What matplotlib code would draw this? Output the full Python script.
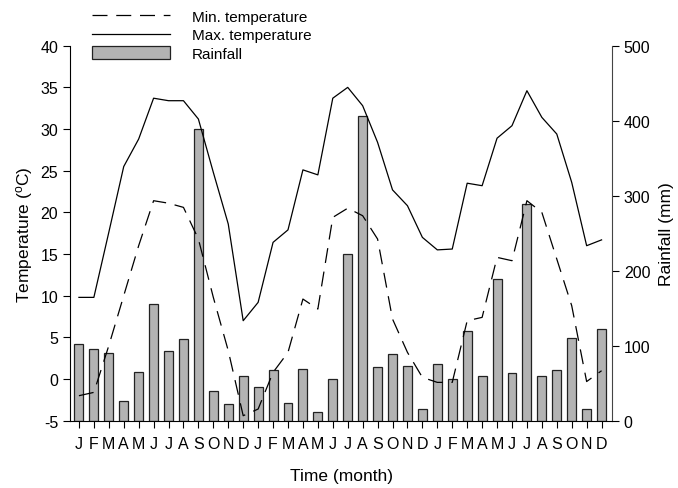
import numpy as np
import matplotlib
matplotlib.use("Agg")
import matplotlib.pyplot as plt
from matplotlib.patches import Patch
from matplotlib.lines import Line2D

plt.rcParams["font.family"] = ["Liberation Sans", "DejaVu Sans"]
plt.rcParams["mathtext.default"] = "regular"
plt.rcParams["axes.unicode_minus"] = False

# three years of monthly data
month_labels = list("JFMAMJJASOND") * 3

t_max = [9.8, 9.8, 17.6, 25.5, 28.8, 33.7, 33.4, 33.4, 31.2, 24.8, 18.6, 7.0,
         9.2, 16.4, 17.9, 25.1, 24.5, 33.7, 35.0, 32.8, 28.4, 22.7, 20.8, 17.0,
         15.5, 15.6, 23.5, 23.2, 28.9, 30.4, 34.6, 31.4, 29.4, 23.6, 16.0, 16.7]

t_min = [-2.0, -1.6, 4.0, 10.0, 16.0, 21.4, 21.1, 20.6, 16.8, 9.8, 3.4, -4.4,
         -3.6, 0.8, 3.2, 9.6, 8.4, 19.4, 20.5, 19.6, 16.8, 7.2, 3.2, 0.2,
         -0.4, -0.4, 7.0, 7.4, 14.6, 14.2, 21.4, 20.0, 14.4, 8.8, -0.3, 1.0]

rainfall = [102, 96, 90, 26, 65, 155, 93, 109, 389, 40, 22, 59,
            45, 68, 24, 69, 11, 56, 222, 406, 72, 89, 73, 16,
            76, 56, 119, 59, 189, 64, 289, 60, 68, 110, 16, 122]

x = np.arange(len(month_labels))

fig = plt.figure(figsize=(6.78, 4.89), dpi=100)
ax = fig.add_axes([0.1032, 0.1376, 0.7995, 0.7669])
ax2 = ax.twinx()

# bars go on the right axis, drawn below the temperature lines
ax2.bar(x, rainfall, width=0.6, color="#b3b3b3", edgecolor="#222222", linewidth=0.9, zorder=1)
ax2.set_ylim(0, 500)
ax2.set_yticks([0, 100, 200, 300, 400, 500])
ax2.set_ylabel("Rainfall (mm)", fontsize=12.5, labelpad=6)

ax.set_zorder(ax2.get_zorder() + 1)
ax.patch.set_visible(False)
ax.plot(x, t_min, color="black", lw=0.9, dashes=(12, 7))
ax.plot(x, t_max, color="black", lw=0.9)
ax.set_ylim(-5, 40)
ax.set_yticks(np.arange(-5, 41, 5))
ax.set_xlim(-0.6, 35.7)
ax.set_xticks(x)
ax.set_xticklabels(month_labels)
ax.set_ylabel("Temperature ($^{o}$C)", fontsize=12.5)
ax.set_xlabel("Time (month)", fontsize=12.5, labelpad=12)

for a in (ax, ax2):
    a.spines["top"].set_visible(False)
    a.tick_params(labelsize=11.5, length=5, width=0.8, direction="out")
ax.spines["right"].set_visible(False)
ax2.spines["left"].set_visible(False)
ax2.spines["bottom"].set_visible(False)
ax2.spines["right"].set_color("#444444")
ax.tick_params(axis="x", pad=6)

handles = [Line2D([], [], color="black", lw=0.9, dashes=(12, 7)),
           Line2D([], [], color="black", lw=0.9),
           Patch(facecolor="#b3b3b3", edgecolor="#222222", linewidth=0.9)]
labels = ["Min. temperature", "Max. temperature", "Rainfall"]
fig.legend(handles, labels, loc="upper left", bbox_to_anchor=(0.1357, 0.979),
           frameon=False, fontsize=11, handlelength=5.1, handleheight=0.9,
           labelspacing=0.25, handletextpad=1.45, borderpad=0, borderaxespad=0)

fig.savefig("out.png", dpi=100)
